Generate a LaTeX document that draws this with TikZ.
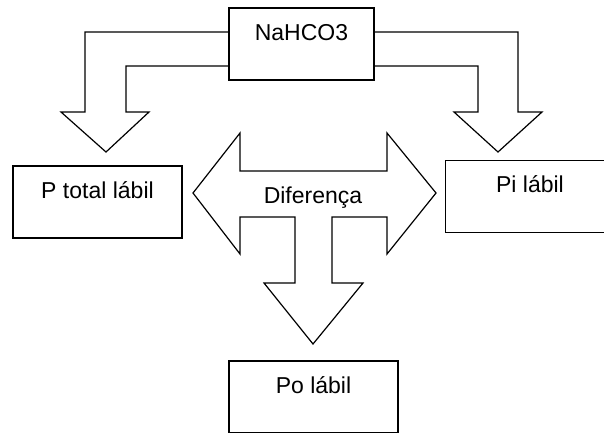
\documentclass[tikz,border=0pt]{standalone}
\usepackage{fontspec}
\setmainfont{Liberation Sans}
\usetikzlibrary{positioning}

\begin{document}
\begin{tikzpicture}[x = 1pt, y = -1pt]
            \tikzstyle{box} = [draw, line width=1.2pt, inner sep=0pt, minimum width=169pt, text height=32pt, text depth=40pt, font=\fontsize{23}{27}\selectfont]
            \tikzstyle{block} = [line width=1.2pt, line join=miter]
            \clip (0, 0) rectangle (604, 432);

            \node[box, minimum width=145pt] (nahco) at (301.5, 44) {NaHCO3};
            \node[box] (ptotal) at (97.5, 202) {P total lábil};
            \node[box] (pi) at (530, 196.5) {Pi lábil};
            \node[box] (po) at (313.5, 397) {Po lábil};

            % NaHCO3 -> P total / Pi
            \draw [block] (nahco.west |- 0,32) -- (85, 32) -- (85, 112) -- (61, 112) -- (106, 152)
                -- (149, 112) -- (126, 112) -- (126, 66) -- (nahco.west |- 0,66);
            \draw [block] (nahco.east |- 0,32) -- (518, 32) -- (518, 112) -- (542, 112) -- (498, 152)
                -- (454, 112) -- (478, 112) -- (478, 66) -- (nahco.east |- 0,66);

            % diferenca
            \draw [block] (193, 193) -- (240, 133) -- (240, 171) -- (387, 171) -- (387, 133) -- (436, 193)
                -- (387, 254) -- (387, 217) -- (332, 217) -- (332, 283) -- (363, 283) -- (313, 344)
                -- (264, 283) -- (295, 283) -- (295, 217) -- (240, 217) -- (240, 254) -- cycle;
            \node[anchor=base, inner sep=0pt, font=\fontsize{23}{27}\selectfont] (diff) at (313, 203) {Diferença};

        \end{tikzpicture}
\end{document}
